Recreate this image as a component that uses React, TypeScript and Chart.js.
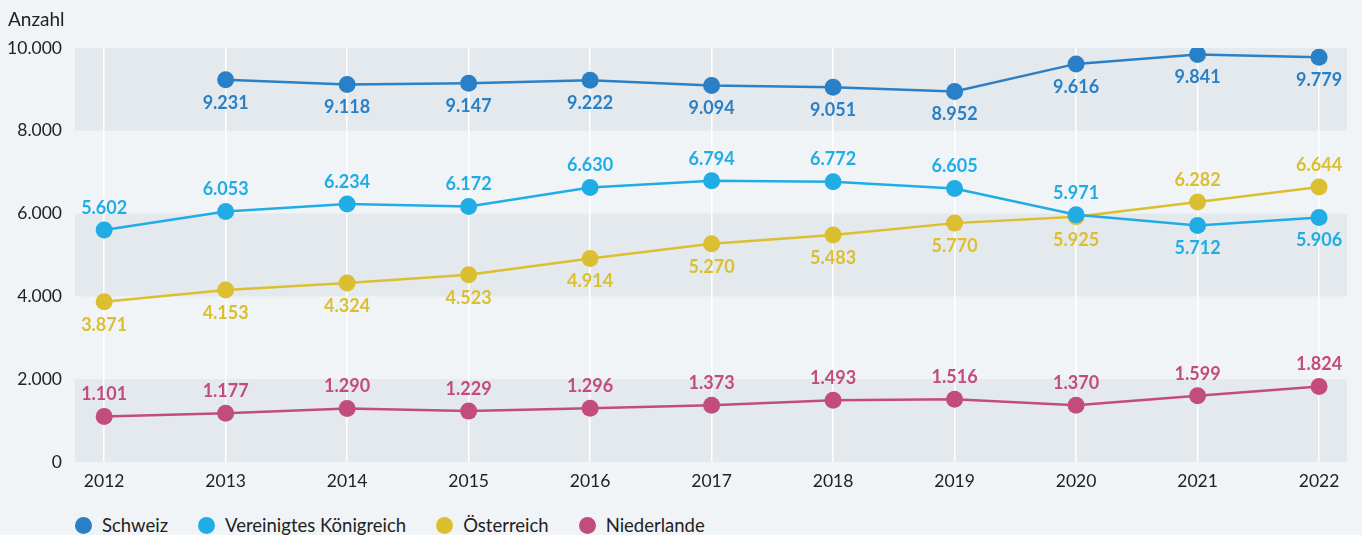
import React, { useEffect, useRef } from "react";
import { Chart, registerables } from "chart.js";

Chart.register(...registerables);

const years = [2012, 2013, 2014, 2015, 2016, 2017, 2018, 2019, 2020, 2021, 2022];
const schweiz = [null, 9231, 9118, 9147, 9222, 9094, 9051, 8952, 9616, 9841, 9779];
const vereinigtesKoenigreich = [5602, 6053, 6234, 6172, 6630, 6794, 6772, 6605, 5971, 5712, 5906];
const oesterreich = [3871, 4153, 4324, 4523, 4914, 5270, 5483, 5770, 5925, 6282, 6644];
const niederlande = [1101, 1177, 1290, 1229, 1296, 1373, 1493, 1516, 1370, 1599, 1824];

const seriesNames = ["Schweiz", "Vereinigtes Königreich", "Österreich", "Niederlande"];
const seriesColors = ["#2a80c6", "#20ade6", "#dbbf31", "#c24c7c"];
// label placement: "a" above, "b" below
const labelSides = [
  ["b", "b", "b", "b", "b", "b", "b", "b", "b", "b", "b"],
  ["a", "a", "a", "a", "a", "a", "a", "a", "a", "b", "b"],
  ["b", "b", "b", "b", "b", "b", "b", "b", "b", "a", "a"],
  ["a", "a", "a", "a", "a", "a", "a", "a", "a", "a", "a"],
];
const yTicks = [0, 2000, 4000, 6000, 8000, 10000];
const grayBands = [
  [0, 2000],
  [4000, 6000],
  [8000, 10000],
];

const FONT = "Lato, 'Noto Sans', sans-serif";
const BG = "#f1f4f6";
const BAND = "#e4e9ed";

function fmt(v: number): string {
  const s = Math.round(v).toString();
  return s.replace(/\B(?=(\d{3})+(?!\d))/g, ".");
}

export default function App() {
  const ref = useRef<HTMLCanvasElement | null>(null);

  useEffect(() => {
    document.body.style.margin = "0";
    document.body.style.background = BG;
    const canvas = ref.current;
    if (!canvas) return;

    const bandsPlugin = {
      id: "bands",
      beforeDraw(chart: any) {
        const { ctx, chartArea, scales } = chart;
        const y = scales.y;
        ctx.save();
        ctx.fillStyle = BAND;
        for (const [a, b] of grayBands) {
          const top = y.getPixelForValue(b);
          const bot = y.getPixelForValue(a);
          ctx.fillRect(chartArea.left, top, chartArea.right - chartArea.left, bot - top);
        }
        ctx.fillStyle = "#222";
        ctx.font = `19px ${FONT}`;
        ctx.textBaseline = "middle";
        ctx.textAlign = "left";
        ctx.fillText("Anzahl", 8, 20);
        ctx.restore();
      },
    };

    const labelsPlugin = {
      id: "valueLabels",
      afterDatasetsDraw(chart: any) {
        const { ctx } = chart;
        ctx.save();
        ctx.font = `bold 18px ${FONT}`;
        ctx.textAlign = "center";
        ctx.textBaseline = "middle";
        chart.data.datasets.forEach((ds: any, i: number) => {
          const meta = chart.getDatasetMeta(i);
          ctx.fillStyle = seriesColors[i];
          meta.data.forEach((pt: any, j: number) => {
            const d = ds.data[j];
            const v = d ? d.y : null;
            if (v === null || v === undefined) return;
            const side = labelSides[i][j];
            const dy = side === "a" ? -22 : 23;
            ctx.fillText(fmt(v), pt.x, pt.y + dy);
          });
        });
        ctx.restore();
      },
    };

    const seriesData = [schweiz, vereinigtesKoenigreich, oesterreich, niederlande];

    const chart = new Chart(canvas, {
      type: "line",
      data: {
        datasets: seriesData.map((arr, i) => ({
          label: seriesNames[i],
          data: years.map((yr, j) => ({ x: yr, y: arr[j] })) as any,
          borderColor: seriesColors[i],
          backgroundColor: seriesColors[i],
          borderWidth: 2.5,
          pointRadius: 8.5,
          pointHoverRadius: 8.5,
          pointBorderWidth: 0,
          tension: 0,
          spanGaps: false,
        })),
      },
      options: {
        animation: false,
        responsive: false,
        events: [],
        layout: { padding: { top: 48, right: 15, left: 0, bottom: 0 } },
        plugins: {
          legend: { display: false },
          tooltip: { enabled: false },
        },
        scales: {
          x: {
            type: "linear",
            min: 2011.76,
            max: 2022.23,
            afterBuildTicks(scale: any) {
              scale.ticks = years.map((v) => ({ value: v }));
            },
            afterFit(scale: any) {
              scale.height = 38;
            },
            grid: {
              color: "#ffffff",
              lineWidth: 1.5,
              drawTicks: false,
            },
            border: { display: false },
            ticks: {
              color: "#222",
              font: { family: FONT, size: 17.5 },
              padding: 9,
              autoSkip: false,
              maxRotation: 0,
              callback: (v: any) => String(v),
            },
          },
          y: {
            min: 0,
            max: 10000,
            afterBuildTicks(scale: any) {
              scale.ticks = yTicks.map((v) => ({ value: v }));
            },
            afterFit(scale: any) {
              scale.width = 75;
            },
            grid: { display: false, drawTicks: false },
            border: { display: false },
            ticks: {
              color: "#222",
              font: { family: FONT, size: 17.5 },
              padding: 13,
              callback: (v: any) => fmt(Number(v)),
            },
          },
        },
      },
      plugins: [bandsPlugin, labelsPlugin],
    });

    return () => chart.destroy();
  }, []);

  return (
    <div style={{ position: "relative", width: 1362, height: 535, background: BG, fontFamily: FONT }}>
      <canvas ref={ref} width={1362} height={500} style={{ position: "absolute", left: 0, top: 0 }} />
      <div
        style={{
          position: "absolute",
          left: 75,
          top: 514,
          display: "flex",
          alignItems: "center",
          fontSize: 18.5,
          color: "#222",
          lineHeight: "22px",
        }}
      >
        {seriesNames.map((n, i) => (
          <div key={n} style={{ display: "flex", alignItems: "center", marginRight: 30 }}>
            <span
              style={{
                width: 17,
                height: 17,
                borderRadius: "50%",
                background: seriesColors[i],
                display: "inline-block",
                marginRight: 10,
              }}
            />
            <span>{n}</span>
          </div>
        ))}
      </div>
    </div>
  );
}
